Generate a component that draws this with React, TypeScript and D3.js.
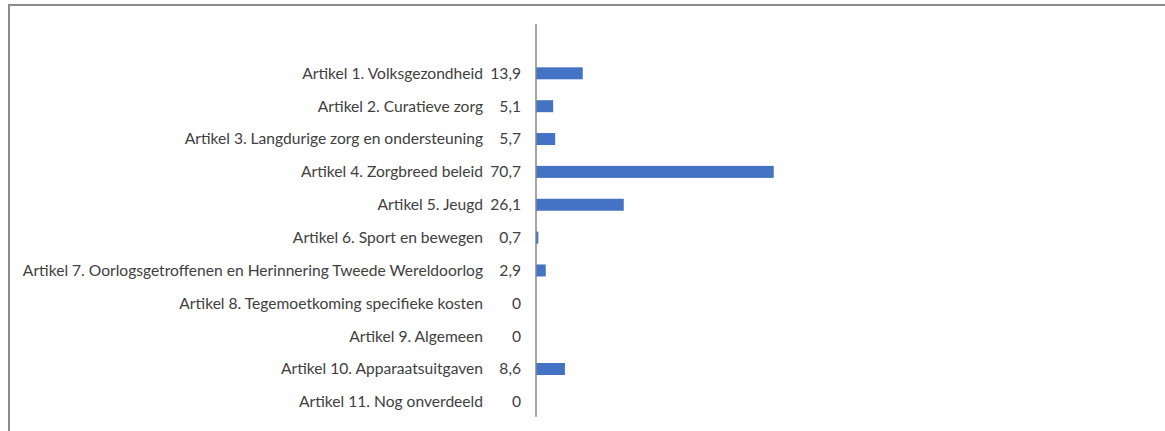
import React from "react";
import * as d3 from "d3";

const categories = [
  "Artikel 1. Volksgezondheid",
  "Artikel 2. Curatieve zorg",
  "Artikel 3. Langdurige zorg en ondersteuning",
  "Artikel 4. Zorgbreed beleid",
  "Artikel 5. Jeugd",
  "Artikel 6. Sport en bewegen",
  "Artikel 7. Oorlogsgetroffenen en Herinnering Tweede Wereldoorlog",
  "Artikel 8. Tegemoetkoming specifieke kosten",
  "Artikel 9. Algemeen",
  "Artikel 10. Apparaatsuitgaven",
  "Artikel 11. Nog onverdeeld",
];
const values = [13.9, 5.1, 5.7, 70.7, 26.1, 0.7, 2.9, 0, 0, 8.6, 0];
const valueLabels = ["13,9", "5,1", "5,7", "70,7", "26,1", "0,7", "2,9", "0", "0", "8,6", "0"];

const W = 1165;
const H = 431;
const axisX = 536;
const axisTop = 24;
const plotTop = 56.9;
const plotBottom = 418.3;

export default function App() {
  const x = d3.scaleLinear().domain([0, 80]).range([axisX, axisX + 269]);
  const y = d3
    .scaleBand<string>()
    .domain(categories)
    .range([plotTop, plotBottom])
    .paddingInner(0.635)
    .paddingOuter(0.3175);
  const font = "Lato, 'Open Sans', sans-serif";
  const textColor = "#404040";
  return (
    <svg
      width={W}
      height={H}
      style={{ position: "absolute", left: 0, top: 0, background: "#fff" }}
    >
      <rect x={0} y={0} width={W} height={H} fill="#fff" />
      {/* frame */}
      <line x1={8} x2={W} y1={5} y2={5} stroke="#8a8a8a" strokeWidth={2} />
      <line x1={9} x2={9} y1={5} y2={H} stroke="#8a8a8a" strokeWidth={2} />
      {categories.map((c, i) => {
        const yc = (y(c) as number) + y.bandwidth() / 2;
        return (
          <g key={c}>
            <rect
              x={x(0)}
              y={y(c)}
              width={x(values[i]) - x(0)}
              height={y.bandwidth()}
              fill="#4472C4"
            />
            <text
              x={483}
              y={yc}
              dy="0.35em"
              textAnchor="end"
              fontFamily={font}
              fontSize={15.6}
              fill={textColor}
            >
              {c}
            </text>
            <text
              x={521}
              y={yc}
              dy="0.35em"
              textAnchor="end"
              fontFamily={font}
              fontSize={15.6}
              fill={textColor}
            >
              {valueLabels[i]}
            </text>
          </g>
        );
      })}
      <line
        x1={axisX}
        x2={axisX}
        y1={axisTop}
        y2={plotBottom - 1.5}
        stroke="#868686"
        strokeWidth={1.5}
      />
    </svg>
  );
}
